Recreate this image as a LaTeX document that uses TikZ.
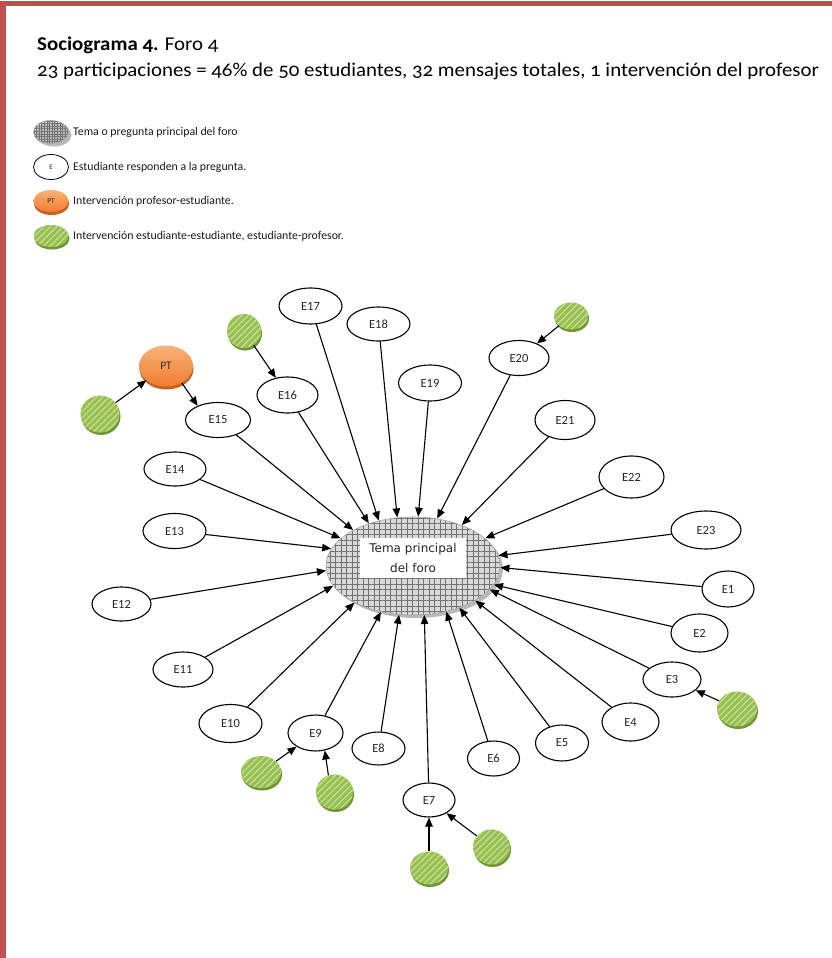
\documentclass[tikz,border=0pt]{standalone}
\usepackage{fontspec}
\setmainfont{Carlito}
\newfontfamily\titlefont{Carlito}[Numbers=OldStyle, FakeStretch=1.07]
\newfontfamily\temafont{DejaVu Sans}
\usetikzlibrary{arrows.meta,shapes.geometric,patterns,patterns.meta,shadows}
\definecolor{redb}{RGB}{192,80,77}
\definecolor{gbase}{RGB}{150,190,80}
\definecolor{glight}{RGB}{196,222,148}
\definecolor{gdark}{RGB}{112,148,52}
\definecolor{otop}{RGB}{248,178,120}
\definecolor{obot}{RGB}{240,125,48}
\definecolor{odark}{RGB}{196,98,34}
\tikzset{
  stu/.style={ellipse, draw=black, line width=1.1pt, fill=white, inner sep=0pt,
    text=black!85, font=\fontsize{12.5}{13}\selectfont},
  arr/.style={line width=1.1pt, -{Triangle[length=9pt,width=7.5pt]}},
  grn/.style={ellipse, inner sep=0pt,
    general shadow={fill=gdark, shadow xshift=1pt, shadow yshift=-2.5pt},
    preaction={fill=gbase},
    pattern={Lines[angle=45,distance=4.5pt,line width=1.3pt]}, pattern color=glight},
  orn/.style={ellipse, inner sep=0pt,
    general shadow={fill=odark, shadow xshift=0.5pt, shadow yshift=-3pt},
    top color=otop, bottom color=obot, text=black!80},
  tema/.style={ellipse, inner sep=0pt, draw=gray!70, line width=0.6pt,
    general shadow={fill=gray!55, shadow xshift=3pt, shadow yshift=-3pt},
    preaction={fill=gray!30}},
  legtxt/.style={anchor=west, inner sep=0pt, text=black!90, font=\fontsize{11.8}{13}\selectfont},
}
\newcommand{\stud}[5]{\node[stu, minimum width=#4pt, minimum height=#5pt] (#1) at (#2,#3) {#1};}
\begin{document}
\begin{tikzpicture}[x=1pt,y=-1pt]
\useasboundingbox (0,0) rectangle (832,958);
\fill[white] (0,0) rectangle (832,958);
% frame
\fill[redb] (0,1) rectangle (832,6);
\fill[redb] (0,1) rectangle (6,958);
% title
\node[anchor=west, inner sep=0pt, font=\titlefont\fontsize{19.5}{21}\selectfont] (title) at (37,45) {\textbf{Sociograma 4.} Foro 4};
\node[anchor=west, inner sep=0pt, font=\titlefont\fontsize{19.5}{21}\selectfont] (sub) at (37,71) {23 participaciones = 46\% de 50 estudiantes, 32 mensajes totales, 1 intervención del profesor};
% legend
\node[tema, minimum width=35pt, minimum height=23pt,
  general shadow={fill=gray!55, shadow xshift=1pt, shadow yshift=-2pt},
  pattern={Hatch[angle=0,distance=2.6pt,line width=0.5pt]}, pattern color=black!55] (L1) at (51,132) {};
\node[legtxt] (L1t) at (73,132) {Tema o pregunta principal del foro};
\node[stu, line width=0.8pt, minimum width=35pt, minimum height=25pt, font=\fontsize{7}{8}\selectfont] (L2) at (51,167) {E};
\node[legtxt] (L2t) at (73,167) {Estudiante responden a la pregunta.};
\node[orn, minimum width=35pt, minimum height=22pt, font=\fontsize{7.5}{8}\selectfont,
  general shadow={fill=odark, shadow xshift=0.5pt, shadow yshift=-2pt}] (L3) at (51,201) {PT};
\node[legtxt] (L3t) at (73,201) {Intervención profesor-estudiante.};
\node[grn, minimum width=35pt, minimum height=22pt] (L4) at (51,236) {};
\node[legtxt] (L4t) at (73,236) {Intervención estudiante-estudiante, estudiante-profesor.};
% central topic
\node[tema, minimum width=174pt, minimum height=98pt,
  pattern={Hatch[angle=0,distance=5.5pt,line width=0.9pt]}, pattern color=black!55] (C) at (413,566) {};
\node[fill=white, inner sep=0pt, minimum width=106pt, minimum height=40pt, align=center,
  font=\temafont\fontsize{12}{20}\selectfont, text=black!85] (T) at (413,558) {Tema principal\\del foro};
% students
\stud{E1}{728}{589}{52}{36}
\stud{E2}{699.5}{633}{57}{38}
\stud{E3}{672}{679.5}{58}{35}
\stud{E4}{630.5}{722}{57}{38}
\stud{E5}{562}{743}{53}{36}
\stud{E6}{493.5}{758.5}{52}{35}
\stud{E7}{429}{800}{52}{34}
\stud{E8}{378.5}{748.5}{53}{33}
\stud{E9}{315.5}{733}{55}{36}
\stud{E10}{230.5}{723.5}{63}{38}
\stud{E11}{183}{669.5}{60}{35}
\stud{E12}{121.5}{604}{59}{34}
\stud{E13}{174.5}{531}{63}{35}
\stud{E14}{175}{469}{62}{34}
\stud{E15}{218}{420}{65}{35}
\stud{E16}{287.5}{395}{61}{36}
\stud{E17}{310.5}{306}{63}{36}
\stud{E18}{378.5}{324}{63}{34}
\stud{E19}{430}{383}{63}{36}
\stud{E20}{519}{358}{60}{35}
\stud{E21}{565}{420}{60}{39}
\stud{E22}{631.5}{477}{65}{42}
\stud{E23}{706}{530}{70}{38}
% professor
\node[orn, minimum width=54pt, minimum height=41pt, font=\fontsize{11.5}{12}\selectfont] (PT) at (166,366) {PT};
% green interventions
\node[grn, minimum width=39pt, minimum height=37pt] (gPT) at (100,414) {};
\node[grn, minimum width=34pt, minimum height=34pt] (g16) at (244,331) {};
\node[grn, minimum width=34pt, minimum height=27pt] (g20) at (571,316) {};
\node[grn, minimum width=40pt, minimum height=35pt] (g3) at (737,709) {};
\node[grn, minimum width=40pt, minimum height=32pt] (g9a) at (261,772) {};
\node[grn, minimum width=37pt, minimum height=35pt] (g9b) at (334.5,792) {};
\node[grn, minimum width=38pt, minimum height=33pt] (g7a) at (429,868) {};
\node[grn, minimum width=37pt, minimum height=35pt] (g7b) at (491.5,847) {};
% arrows to the topic
\draw[arr] (E1) -- (C.359);
\draw[arr] (E2) -- (C.347);
\draw[arr] (E3) -- (C.343);
\draw[arr] (E4) -- (C.331);
\draw[arr] (E5) -- (C.318);
\draw[arr] (E6) -- (C.306);
\draw[arr] (E7) -- (C.283);
\draw[arr] (E8) -- (C.254);
\draw[arr] (E9) -- (C.235);
\draw[arr] (E10) -- (C.212);
\draw[arr] (E11) -- (C.194);
\draw[arr] (E12) -- (C.183);
\draw[arr] (E13) -- (C.168);
\draw[arr] (E14) -- (C.159);
\draw[arr] (E15) -- (C.149);
\draw[arr] (E16) -- (C.136);
\draw[arr] (E17) -- (C.127);
\draw[arr] (E18) -- (C.108);
\draw[arr] (E19) -- (C.84);
\draw[arr] (E20) -- (C.63);
\draw[arr] (E21) -- (C.40);
\draw[arr] (E22) -- (C.21);
\draw[arr] (E23) -- (C.7);
% other interactions
\draw[arr] (gPT) -- (PT);
\draw[arr] (PT.-47) -- (E15.145);
\draw[arr] (g16) -- (E16);
\draw[arr] (g20) -- (E20);
\draw[arr] (g3) -- (E3);
\draw[arr] (g9a) -- (E9);
\draw[arr] (g9b.110) -- (E9.-62);
\draw[arr] (g7a) -- (E7);
\draw[arr] (g7b) -- (E7);
\end{tikzpicture}
\end{document}
